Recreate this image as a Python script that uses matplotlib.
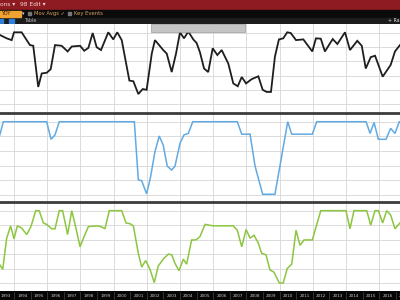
import matplotlib
matplotlib.use("Agg")
import matplotlib.pyplot as plt
from matplotlib.patches import Rectangle

# --- data (decimal years, index values) ---
top_years = [1993.0, 1993.56, 1993.86, 1994.0, 1994.46, 1994.96, 1995.16, 1995.46, 1995.67, 1995.97,
             1996.21, 1996.47, 1996.87, 1997.23, 1997.48, 1997.98, 1998.23, 1998.48, 1998.74, 1998.98,
             1999.24, 1999.68, 1999.98, 2000.22, 2000.49, 2000.95, 2001.19, 2001.49, 2001.75, 2001.99,
             2002.30, 2002.49, 2002.99, 2003.20, 2003.50, 2003.76, 2004.0, 2004.24, 2004.5, 2004.8,
             2005.0, 2005.2, 2005.45, 2005.70, 2005.97, 2006.25, 2006.51, 2006.91, 2007.21, 2007.48,
             2007.72, 2007.98, 2008.32, 2008.72, 2008.98, 2009.22, 2009.48, 2009.72, 2009.96, 2010.22,
             2010.46, 2010.67, 2010.99, 2011.43, 2011.97, 2012.19, 2012.48, 2012.73, 2013.20, 2013.48,
             2013.94, 2014.24, 2014.68, 2014.95, 2015.19, 2015.49, 2015.75, 2016.21, 2016.69, 2016.95,
             2017.25]
top_vals = [99, 92.5, 90, 101, 101, 83, 82, 24, 43, 44,
            49, 83, 82, 74, 81, 82, 75, 79, 100, 80,
            76, 101, 91, 101, 90, 33, 32, 14, 21, 20,
            71, 90, 76, 71, 45, 71, 101, 92.5, 102, 91,
            86, 73, 50, 45, 78.5, 69, 76, 57, 29, 25,
            38, 29, 35, 39, 20, 17, 17, 67, 91, 92.5,
            101, 100, 90, 91, 74, 92.5, 92, 74, 91.5, 84.5,
            101, 76, 89, 82, 50, 66, 68, 38.5, 55, 74,
            83]

mid_years = [1993.0, 1993.36, 1995.97, 1996.23, 1996.47, 1996.73, 2001.25, 2001.49, 2001.69, 2001.99,
             2002.23, 2002.49, 2002.75, 2002.99, 2003.23, 2003.50, 2003.70, 2004.0, 2004.24, 2004.50,
             2004.77, 2007.45, 2007.72, 2008.22, 2008.52, 2008.98, 2009.72, 2010.49, 2010.73, 2011.97,
             2012.24, 2015.21, 2015.45, 2015.69, 2015.95, 2016.41, 2016.69, 2016.95, 2017.21, 2017.25]
mid_vals = [70, 100, 100, 76, 82, 100, 100, 20.5, 19.5, 1.5,
            25, 59, 80.5, 68, 39.5, 34, 39.5, 70.5, 82, 84,
            100, 100, 83, 83, 39.5, 1, 1, 100, 83, 83,
            100, 100, 84, 99, 76, 76, 91, 84, 100, 100]

bot_years = [1993.0, 1993.32, 1993.56, 1993.80, 1994.0, 1994.2, 1994.46, 1994.77, 1995.02, 1995.31,
             1995.52, 1995.77, 1995.97, 1996.27, 1996.47, 1996.73, 1996.93, 1997.23, 1997.48, 1997.73,
             1997.98, 1998.22, 1998.48, 1998.98, 1999.24, 1999.48, 1999.74, 2000.49, 2000.75, 2000.99,
             2001.19, 2001.49, 2001.69, 2001.93, 2002.19, 2002.45, 2002.69, 2002.99, 2003.30, 2003.50,
             2003.70, 2003.94, 2004.20, 2004.40, 2004.70, 2004.95, 2005.20, 2005.51, 2006.01, 2007.21,
             2007.45, 2007.72, 2007.98, 2008.22, 2008.46, 2008.72, 2008.92, 2009.18, 2009.42, 2009.66,
             2009.98, 2010.22, 2010.46, 2010.73, 2010.99, 2011.23, 2011.47, 2011.97, 2012.48, 2014.0,
             2014.24, 2014.48, 2015.25, 2015.49, 2015.75, 2015.95, 2016.21, 2016.45, 2016.69, 2016.95,
             2017.25]
bot_vals = [30, 19, 62, 79, 61, 79, 76, 67, 78, 100,
            100, 83, 81, 75, 75, 100, 100, 67, 100, 76,
            50, 64, 78, 79, 78, 75, 100, 100, 83, 82,
            79, 41, 22, 31, 19, 0.5, 23.5, 33, 40, 39,
            27, 17, 33, 26, 59.5, 59.5, 64, 81, 79, 79,
            73, 50, 74, 62, 66, 55, 41, 39, 18, 15,
            0, 0, 20, 26, 73, 52, 59.5, 59.5, 100, 100,
            75, 100, 100, 80, 100, 100, 83, 100, 94, 75,
            83]

year_labels = list(range(1993, 2018))

W, H = 400, 300
XMIN, XMAX = 1993.157, 2017.253


def rect(top, bottom, left=0, right=W):
    return [left / W, 1 - bottom / H, (right - left) / W, (bottom - top) / H]


fig = plt.figure(figsize=(4, 3), dpi=100)
fig.patch.set_facecolor("white")

# header strip (pixel coordinates)
hd = fig.add_axes(rect(0, 24))
hd.set_xlim(0, W)
hd.set_ylim(24, 0)
hd.axis("off")
hd.add_patch(Rectangle((0, 0), W, 9.5, color="#8e1b22"))
hd.add_patch(Rectangle((0, 9.5), W, 8, color="#0b0b0b"))
hd.add_patch(Rectangle((0, 17.5), W, 6.5, color="#1c1c1c"))
hd.text(0, 4.9, "ons \u25be", color="#f0d8d8", fontsize=4.2, va="center")
hd.text(20, 4.9, "98 Edit \u25be", color="#f0d8d8", fontsize=4.2, va="center")
hd.add_patch(Rectangle((0, 10.5), 21, 6, color="#f0a332"))
hd.text(1, 13.6, "YOY", color="#3a2000", fontsize=3.6, va="center")
hd.text(22, 13.6, "\u25be", color="#dddddd", fontsize=3.6, va="center")
hd.add_patch(Rectangle((28, 11.8), 3, 3, color="#777777"))
hd.text(34, 13.6, "Mov Avgs \u2713", color="#d9a060", fontsize=3.8, va="center")
hd.add_patch(Rectangle((68, 11.8), 3, 3, color="#777777"))
hd.text(74, 13.6, "Key Events", color="#d9a060", fontsize=3.8, va="center")
hd.add_patch(Rectangle((0, 18.5), 3, 4, color="#2f7fd8"))
hd.add_patch(Rectangle((9, 18.5), 5, 4, color="#2f7fd8"))
hd.text(25, 20.7, "Table", color="#bbbbbb", fontsize=3.4, va="center")
hd.text(399, 20.7, "+ Ra", color="#dddddd", fontsize=3.4, va="center", ha="right")

panels = [
    (24, 113, top_years, top_vals, "#1e1e1e", 1.3, (-12.7, 112.7), False),
    (113, 202, mid_years, mid_vals, "#62aae2", 1.1, (-9.6, 111.9), True),
    (202, 291, bot_years, bot_vals, "#8cc640", 1.1, (-11.1, 112.0), True),
]
for top, bottom, xs, ys, col, lw, ylim, sep in panels:
    ax = fig.add_axes(rect(top, bottom))
    ax.plot(xs, ys, color=col, lw=lw, solid_joinstyle="miter", zorder=3)
    ax.set_xlim(XMIN, XMAX)
    ax.set_ylim(*ylim)
    ax.set_xticks(range(1994, 2017, 2))
    ax.set_yticks(range(0, 101, 20))
    ax.grid(color="#d6d6d6", lw=0.6)
    ax.tick_params(length=0, labelbottom=False, labelleft=False)
    for s in ax.spines.values():
        s.set_visible(False)
    if sep:
        ax.spines["top"].set_visible(True)
        ax.spines["top"].set_color("#3c3c3c")
        ax.spines["top"].set_linewidth(2.0)
        ax.spines["top"].set_zorder(5)

# grey toolbar overlay on the top panel
fig.add_artist(Rectangle((151 / W, 1 - 31.5 / H), 94 / W, 7.5 / H, transform=fig.transFigure,
                         facecolor="#c4c4c4", edgecolor="#9a9a9a", lw=0.5, zorder=10))

# date axis bar
xa = fig.add_axes(rect(291, 300))
xa.set_facecolor("#050505")
xa.set_xlim(XMIN, XMAX)
xa.set_ylim(0, 1)
for s in xa.spines.values():
    s.set_visible(False)
xa.set_xticks([])
xa.set_yticks([])
for yr in year_labels:
    xa.text(yr + 0.5, 0.45, str(yr), color="#c8c8c8", fontsize=3.0, ha="center", va="center",
            clip_on=True)
    xa.plot([yr, yr], [0.15, 0.85], color="#555555", lw=0.4)

fig.savefig("out.png", dpi=100)
